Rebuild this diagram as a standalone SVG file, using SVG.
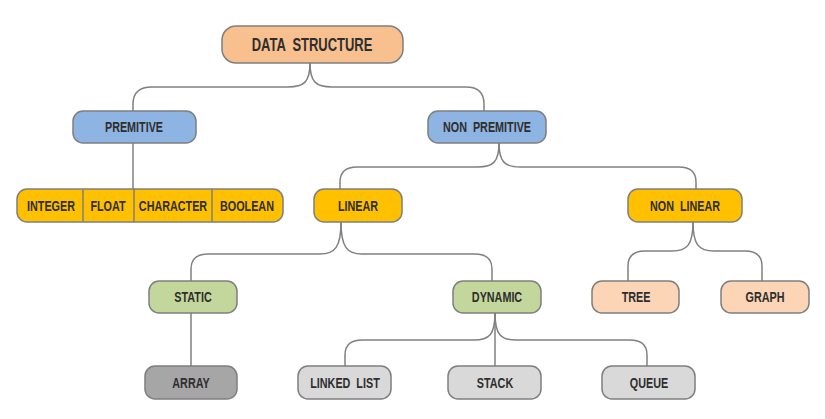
<svg xmlns="http://www.w3.org/2000/svg" width="825" height="419" viewBox="0 0 825 419">
<style>
.box{stroke:#7f7f7f;stroke-width:1.5}
.lbl{font-family:"Liberation Sans",Arial,sans-serif;font-weight:bold;font-size:15px;fill:#2e2e2e;text-anchor:middle;dominant-baseline:central;white-space:pre}
.t{font-size:18px}
.peach{fill:#F8BF8F}.blue{fill:#8EB4E3}.yellow{fill:#FFC000}.green{fill:#C3D69B}.lpeach{fill:#FBD5B5}.gray{fill:#D9D9D9}.dgray{fill:#A6A6A6}
.con{fill:none;stroke:#808080;stroke-width:1.5}
</style>
<rect width="825" height="419" fill="#ffffff"/>
<g id="connectors">
<path class="con" d="M310,63 C310,82 304,87 288,87 H152 Q133,87 133,104 V111"/>
<path class="con" d="M310,63 C310,82 316,87 332,87 H466 Q484,87 484,104 V111"/>
<path class="con" d="M133,143 V189"/>
<path class="con" d="M499,143 C499,162 493,167 478,167 H357 Q340,167 340,182 V189"/>
<path class="con" d="M499,143 C499,162 505,167 520,167 H679 Q696,167 696,182 V189"/>
<path class="con" d="M341,222 C341,247 335,254 320,254 H208 Q191,254 191,269 V281"/>
<path class="con" d="M341,222 C341,247 347,254 362,254 H475 Q492,254 492,269 V281"/>
<path class="con" d="M693,222 C693,245 687,251 672,251 H645 Q628,251 628,266 V281"/>
<path class="con" d="M693,222 C693,245 699,251 714,251 H745 Q762,251 762,266 V281"/>
<path class="con" d="M191,313 V366"/>
<path class="con" d="M495,313 C495,335 489,340 474,340 H362 Q345,340 345,355 V366"/>
<path class="con" d="M495,313 V366"/>
<path class="con" d="M495,313 C495,335 501,340 516,340 H630 Q647,340 647,355 V366"/>
</g>
<g id="data-structure"><rect class="box peach" x="222" y="26" width="181" height="37" rx="14"/><text class="lbl t" transform="translate(312,45) scale(0.72,1)">DATA  STRUCTURE</text></g>
<g id="premitive"><rect class="box blue" x="73" y="111" width="123" height="32" rx="10"/><text class="lbl" transform="translate(134,127) scale(0.72,1)">PREMITIVE</text></g>
<g id="non-premitive"><rect class="box blue" x="428" y="111" width="118" height="32" rx="10"/><text class="lbl" transform="translate(487,127) scale(0.72,1)">NON  PREMITIVE</text></g>
<g id="primitive-types">
<rect class="box yellow" x="17" y="189" width="266" height="33" rx="10"/>
<path class="con" d="M83,189 V222 M134,189 V222 M212,189 V222"/>
<text class="lbl" transform="translate(51,206) scale(0.72,1)">INTEGER</text>
<text class="lbl" transform="translate(108,206) scale(0.72,1)">FLOAT</text>
<text class="lbl" transform="translate(173,206) scale(0.72,1)">CHARACTER</text>
<text class="lbl" transform="translate(247,206) scale(0.72,1)">BOOLEAN</text>
</g>
<g id="linear"><rect class="box yellow" x="314" y="189" width="88" height="33" rx="10"/><text class="lbl" transform="translate(358,206) scale(0.72,1)">LINEAR</text></g>
<g id="non-linear"><rect class="box yellow" x="628" y="189" width="114" height="33" rx="10"/><text class="lbl" transform="translate(685,206) scale(0.72,1)">NON  LINEAR</text></g>
<g id="static"><rect class="box green" x="149" y="281" width="88" height="32" rx="10"/><text class="lbl" transform="translate(193,297) scale(0.72,1)">STATIC</text></g>
<g id="dynamic"><rect class="box green" x="453" y="281" width="88" height="32" rx="10"/><text class="lbl" transform="translate(497,297) scale(0.72,1)">DYNAMIC</text></g>
<g id="tree"><rect class="box lpeach" x="592" y="281" width="87" height="32" rx="10"/><text class="lbl" transform="translate(636,297) scale(0.72,1)">TREE</text></g>
<g id="graph"><rect class="box lpeach" x="721" y="281" width="88" height="32" rx="10"/><text class="lbl" transform="translate(765,297) scale(0.72,1)">GRAPH</text></g>
<g id="array"><rect class="box dgray" x="145" y="366" width="92" height="33" rx="10"/><text class="lbl" transform="translate(191,383) scale(0.72,1)">ARRAY</text></g>
<g id="linked-list"><rect class="box gray" x="298" y="366" width="93" height="33" rx="10"/><text class="lbl" transform="translate(345,383) scale(0.72,1)">LINKED  LIST</text></g>
<g id="stack"><rect class="box gray" x="448" y="366" width="93" height="33" rx="10"/><text class="lbl" transform="translate(495,383) scale(0.72,1)">STACK</text></g>
<g id="queue"><rect class="box gray" x="602" y="366" width="93" height="33" rx="10"/><text class="lbl" transform="translate(649,383) scale(0.72,1)">QUEUE</text></g>
</svg>
